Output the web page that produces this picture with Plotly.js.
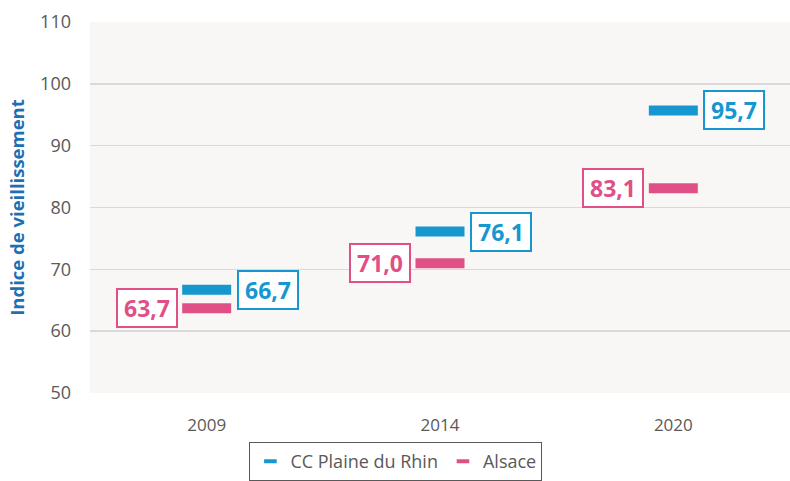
<!DOCTYPE html>
<html>
<head>
<meta charset="utf-8">
<script src="https://cdn.plot.ly/plotly-3.0.1.min.js"></script>
<style>html,body{margin:0;padding:0;background:#fff;}#chart{width:790px;height:481px;}</style>
</head>
<body>
<div id="chart"></div>
<script>
const years = ['2009', '2014', '2020'];
const ccValues = [66.7, 76.1, 95.7];
const alsaceValues = [63.7, 71.0, 83.1];
const ccLabels = ['66,7', '76,1', '95,7'];
const alsaceLabels = ['63,7', '71,0', '83,1'];
const yTicks = [50, 60, 70, 80, 90, 100, 110];

const BLUE = '#1797d0';
const PINK = '#e05086';
const FONT = 'Open Sans, Noto Sans, sans-serif';

function series(name, vals, color) {
  return {
    type: 'scatter', mode: 'markers', name: name, showlegend: false,
    x: years, y: vals,
    marker: {symbol: 'line-ew', size: 35, color: color, line: {color: color, width: 10}},
    hoverinfo: 'skip'
  };
}
function legendItem(name, color) {
  return {
    type: 'scatter', mode: 'markers', name: name, showlegend: true,
    x: [null], y: [null],
    marker: {symbol: 'line-ew', size: 9, color: color, line: {color: color, width: 4}}
  };
}

const traces = [
  series('CC Plaine du Rhin', ccValues, BLUE),
  series('Alsace', alsaceValues, PINK),
  legendItem('CC Plaine du Rhin', BLUE),
  legendItem('Alsace', PINK)
];

const annotations = [];
years.forEach((yr, i) => {
  annotations.push({x: i, y: ccValues[i], xref: 'x', yref: 'y', text: '<b>' + ccLabels[i] + '</b>',
    showarrow: false, xshift: 61, font: {family: FONT, size: 23, color: BLUE},
    bgcolor: '#ffffff', bordercolor: BLUE, borderwidth: 2, borderpad: 3, width: 52, height: 30});
  annotations.push({x: i, y: alsaceValues[i], xref: 'x', yref: 'y', text: '<b>' + alsaceLabels[i] + '</b>',
    showarrow: false, xshift: -60, font: {family: FONT, size: 23, color: PINK},
    bgcolor: '#ffffff', bordercolor: PINK, borderwidth: 2, borderpad: 3, width: 52, height: 30});
});

const layout = {
  width: 790, height: 481,
  margin: {l: 90, r: 0, t: 22, b: 88},
  paper_bgcolor: '#ffffff',
  plot_bgcolor: '#f8f7f5',
  font: {family: FONT, color: '#595959'},
  showlegend: true,
  legend: {orientation: 'h', x: 0.437, xanchor: 'center', y: -0.132, yanchor: 'top',
    bordercolor: '#595959', borderwidth: 1, bgcolor: '#ffffff',
    font: {family: FONT, size: 18, color: '#595959'}},
  xaxis: {type: 'category', range: [-0.5, 2.5], showgrid: false, zeroline: false, showline: false,
    ticks: '', ticklabelstandoff: 20, tickfont: {family: FONT, size: 17, color: '#595959'}},
  yaxis: {range: [50, 110], tickvals: yTicks, showgrid: true, gridcolor: '#d9d9d9', gridwidth: 1.5,
    zeroline: false, showline: false, ticks: '', ticklabelstandoff: 18,
    tickfont: {family: FONT, size: 18, color: '#595959'},
    title: {text: '<b>Indice de vieillissement</b>', standoff: 10, font: {family: FONT, size: 18.5, color: '#1f6fb3'}}},
  annotations: annotations
};

Plotly.newPlot('chart', traces, layout, {displayModeBar: false, staticPlot: true});
</script>
</body>
</html>
